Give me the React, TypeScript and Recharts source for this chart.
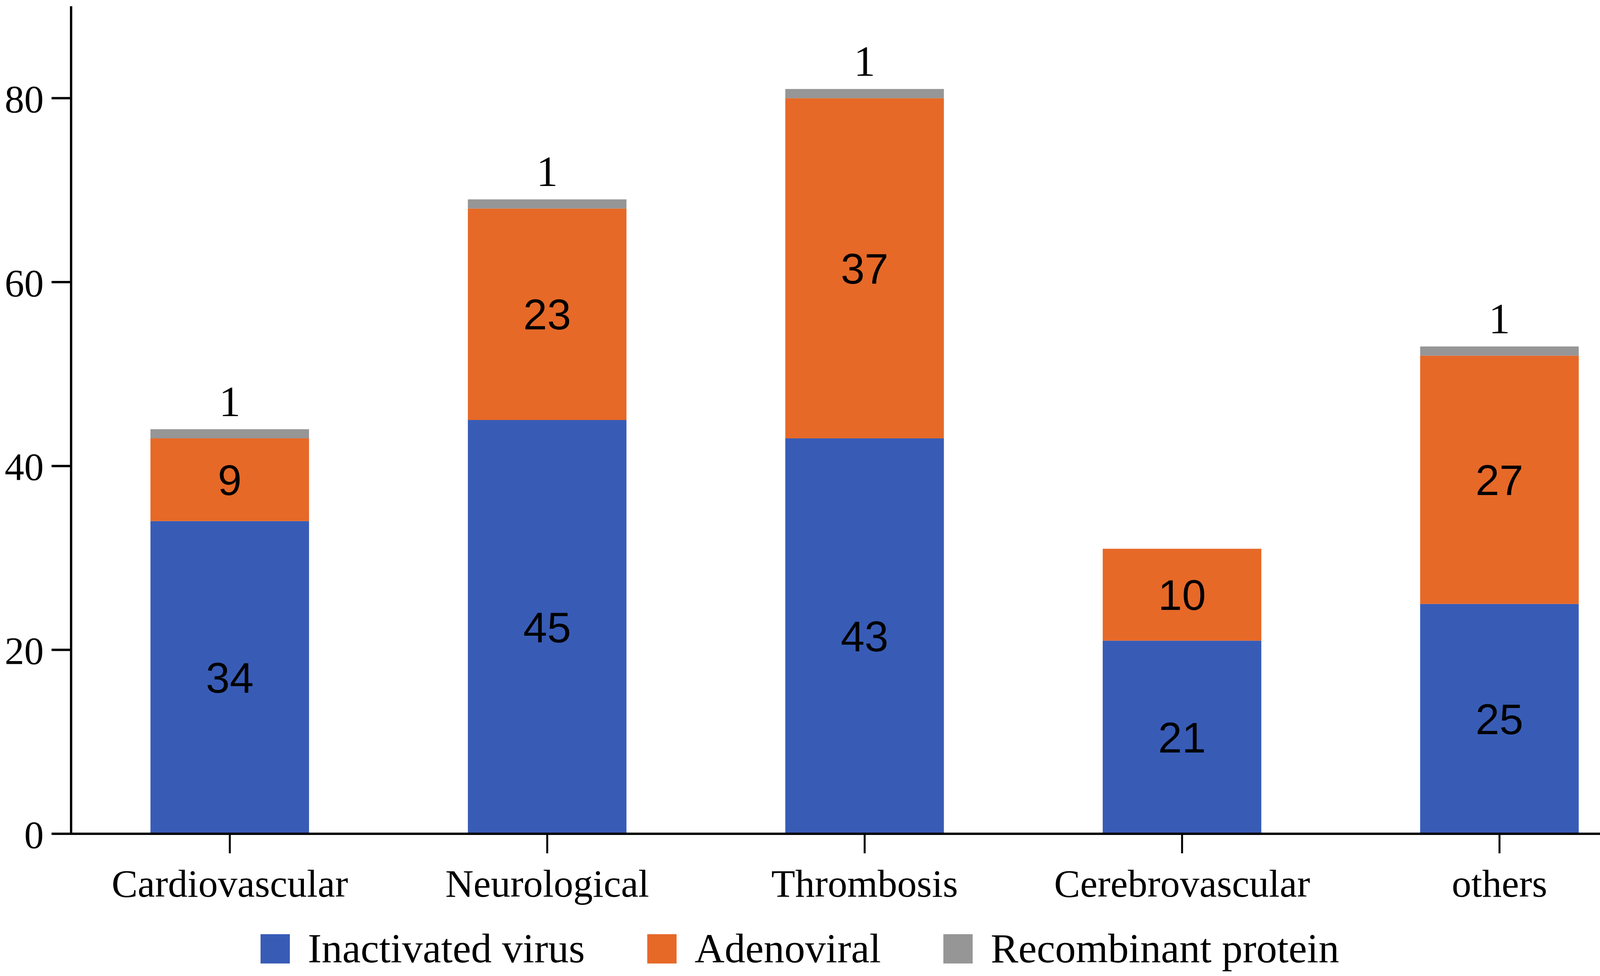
import React from "react";
import { BarChart, Bar, XAxis, YAxis, Legend, LabelList } from "recharts";

const categories = ["Cardiovascular", "Neurological", "Thrombosis", "Cerebrovascular", "others"];
const inactivatedVirus = [34, 45, 43, 21, 25];
const adenoviral = [9, 23, 37, 10, 27];
const recombinantProtein = [1, 1, 1, 0, 1];
const yTicks = [0, 20, 40, 60, 80];

const chartData = categories.map((name, i) => ({
  name,
  inactivated: inactivatedVirus[i],
  adenoviral: adenoviral[i],
  recombinant: recombinantProtein[i],
}));

const legendOrder = ["Inactivated virus", "Adenoviral", "Recombinant protein"];

const serif = "Liberation Serif";
const sans = "Liberation Sans";

function LegendContent({ payload }: any) {
  const items = [...(payload || [])].sort(
    (a: any, b: any) => legendOrder.indexOf(a.value) - legendOrder.indexOf(b.value)
  );
  return (
    <div
      style={{
        display: "flex",
        alignItems: "center",
        gap: 160,
        fontFamily: serif,
        fontSize: 106,
        lineHeight: 1,
        color: "#000",
        whiteSpace: "nowrap",
      }}
    >
      {items.map((p: any) => (
        <div key={p.value} style={{ display: "flex", alignItems: "center" }}>
          <span
            style={{
              display: "inline-block",
              width: 75,
              height: 75,
              background: p.color,
              marginRight: 46,
            }}
          />
          <span>{p.value}</span>
        </div>
      ))}
    </div>
  );
}

// the "1" above each stack; the one over "others" is set in sans in the original
const renderTopLabel = (props: any) => {
  const { x, y, width, value, index } = props;
  if (!value) return null;
  const isSans = categories[index] === "others";
  return (
    <text
      x={Number(x) + Number(width) / 2}
      y={Number(y) - 34}
      textAnchor="middle"
      fontFamily={isSans ? sans : serif}
      fontSize={110}
      fill="#000"
    >
      {value}
    </text>
  );
};

export default function App() {
  return (
    <div style={{ position: "absolute", left: 0, top: 0, width: 4252, height: 2498, background: "#fff" }}>
      <BarChart
        width={4252}
        height={2498}
        data={chartData}
        margin={{ top: 16, right: 7, left: 32, bottom: 164 }}
        barCategoryGap="25%"
      >
        <XAxis
          dataKey="name"
          height={200}
          interval={0}
          axisLine={{ stroke: "#000", strokeWidth: 6 }}
          tickLine={{ stroke: "#000", strokeWidth: 5 }}
          tickSize={50}
          tickMargin={40}
          tick={{ fill: "#000", fontSize: 100, fontFamily: serif }}
        />
        <YAxis
          width={150}
          domain={[0, 90]}
          ticks={yTicks}
          axisLine={{ stroke: "#000", strokeWidth: 6 }}
          tickLine={{ stroke: "#000", strokeWidth: 6 }}
          tickSize={50}
          tickMargin={20}
          tick={{ fill: "#000", fontSize: 100, fontFamily: serif }}
        />
        <Legend
          layout="horizontal"
          verticalAlign="middle"
          align="center"
          content={<LegendContent />}
          wrapperStyle={{ left: 667, top: 2375, width: "auto", height: "auto" }}
        />
        <Bar dataKey="inactivated" name="Inactivated virus" stackId="a" fill="#385CB6" isAnimationActive={false}>
          <LabelList dataKey="inactivated" position="center" fill="#000" fontSize={110} fontFamily={sans} />
        </Bar>
        <Bar dataKey="adenoviral" name="Adenoviral" stackId="a" fill="#E66928" isAnimationActive={false}>
          <LabelList dataKey="adenoviral" position="center" fill="#000" fontSize={110} fontFamily={sans} />
        </Bar>
        <Bar dataKey="recombinant" name="Recombinant protein" stackId="a" fill="#969696" isAnimationActive={false}>
          <LabelList dataKey="recombinant" content={renderTopLabel} />
        </Bar>
      </BarChart>
    </div>
  );
}
